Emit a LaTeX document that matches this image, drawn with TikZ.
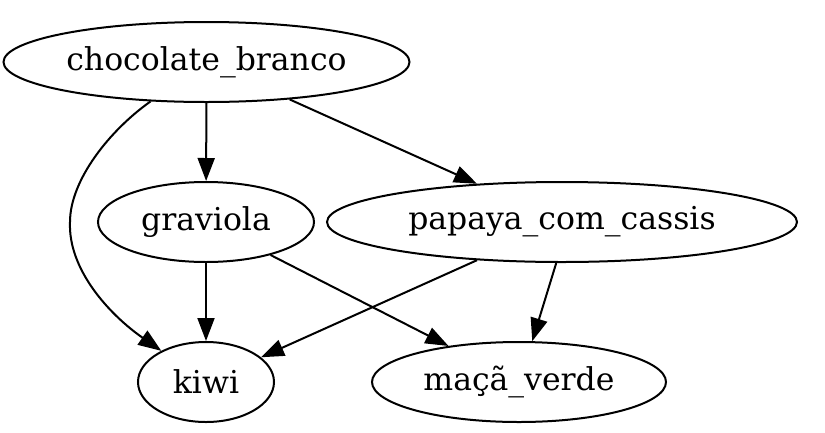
\documentclass[tikz,border=0pt]{standalone}
\usepackage{fontspec}
\setmainfont{DejaVu Serif}
\usetikzlibrary{shapes.geometric,arrows.meta}
\tikzset{
  gnode/.style={draw, line width=2pt, ellipse, inner sep=0pt, minimum height=80pt, font=\fontsize{31.5}{36}\selectfont},
  arr/.style={line width=2pt, -{Triangle[length=23pt,width=17pt]}}
}
\begin{document}
\begin{tikzpicture}[x=1pt,y=-1pt]
\useasboundingbox (0,0) rectangle (825,432);
\node[gnode, minimum width=406pt] (cb) at (206.5,62) {chocolate\_branco};
\node[gnode, minimum width=216pt] (gr) at (206,222) {graviola};
\node[gnode, minimum width=470pt] (pc) at (562,222) {papaya\_com\_cassis};
\node[gnode, minimum width=136pt] (ki) at (206,382) {kiwi};
\node[gnode, minimum width=294pt] (mv) at (519,382) {maçã\_verde};
\coordinate (mid) at (70,222);
\draw[arr] (cb) .. controls (110,130) and (70,180) .. (mid) .. controls (68,270) and (110,315) .. (ki);
\draw[arr] (cb) -- (gr);
\draw[arr] (cb) -- (pc);
\draw[arr] (gr) -- (ki);
\draw[arr] (gr) -- (mv);
\draw[arr] (pc) -- (ki);
\draw[arr] (pc.262) -- (mv.72);
\end{tikzpicture}
\end{document}
